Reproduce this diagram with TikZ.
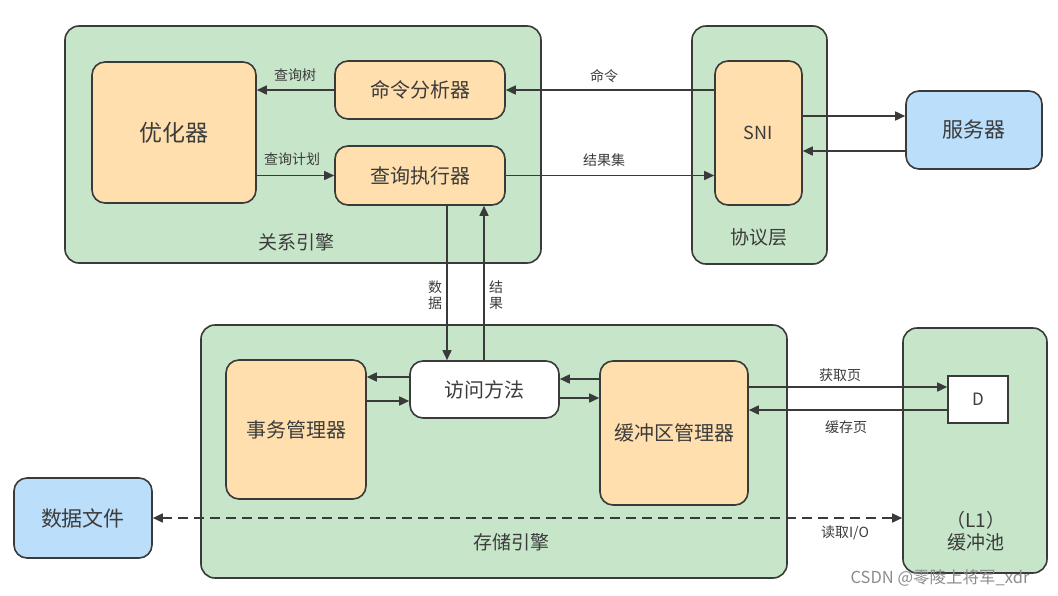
\documentclass[tikz,border=0pt]{standalone}
\usepackage{fontspec}
\setmainfont{Noto Sans CJK SC}
\usetikzlibrary{arrows.meta}
\definecolor{gfill}{HTML}{C6E5C9}
\definecolor{ofill}{HTML}{FFDFAD}
\definecolor{bfill}{HTML}{BBDEFB}
\definecolor{edge}{HTML}{3A3A3A}
\definecolor{txt}{HTML}{3C3C3C}
\tikzset{
  cont/.style={draw=edge, fill=gfill, line width=1.6pt, rounded corners=14pt, inner sep=0pt},
  obox/.style={draw=edge, fill=ofill, line width=1.6pt, rounded corners=13pt, inner sep=0pt, text=txt},
  bbox/.style={draw=edge, fill=bfill, line width=1.6pt, rounded corners=13pt, inner sep=0pt, text=txt},
  wbox/.style={draw=edge, fill=white, line width=1.6pt, rounded corners=13pt, inner sep=0pt, text=txt},
  dbox/.style={draw=edge, fill=white, line width=1.6pt, inner sep=0pt, text=txt},
  arr/.style={draw=edge, line width=1.6pt, -{Triangle[length=10pt,width=9pt]}},
  darr/.style={draw=edge, line width=1.6pt, dash pattern=on 10pt off 6pt, {Triangle[length=10pt,width=9pt]}-{Triangle[length=10pt,width=9pt]}},
  lab/.style={text=txt, font=\fontsize{14}{16}\selectfont, inner sep=0pt},
  clab/.style={text=txt, font=\fontsize{19}{22}\selectfont, inner sep=0pt},
  big/.style={font=\fontsize{20}{24}\selectfont}
}
\begin{document}
\begin{tikzpicture}[x=1pt,y=-1pt]
\useasboundingbox (0,0) rectangle (1058,595);
% containers
\node[cont, minimum width=476pt, minimum height=237pt] (rel) at (303,144.5) {};
\node[cont, minimum width=135pt, minimum height=238pt] (proto) at (759.5,145) {};
\node[cont, minimum width=586pt, minimum height=253pt] (stor) at (494,451.5) {};
\node[cont, minimum width=144pt, minimum height=245pt] (pool) at (975,450.5) {};
\node[clab] (rellab) at (296,242) {关系引擎};
\node[clab] (protolab) at (759,237) {协议层};
\node[clab] (storlab) at (511,542) {存储引擎};
\node[clab, align=center] (poollab) at (976,531) {（L1）\\缓冲池};
% inner boxes
\node[obox, minimum width=164pt, minimum height=141pt, font=\fontsize{23}{26}\selectfont] (opt) at (174,132.5) {优化器};
\node[obox, minimum width=170pt, minimum height=58pt, big] (cmd) at (420,90) {命令分析器};
\node[obox, minimum width=170pt, minimum height=59pt, big] (exec) at (420,175.5) {查询执行器};
\node[obox, minimum width=87pt, minimum height=144pt, font=\fontsize{18}{20}\selectfont] (sni) at (758.5,133) {SNI};
\node[bbox, minimum width=136pt, minimum height=78pt, font=\fontsize{21}{24}\selectfont] (server) at (974,130) {服务器};
\node[obox, minimum width=140pt, minimum height=139pt, big] (txn) at (296,429.5) {事务管理器};
\node[wbox, minimum width=149pt, minimum height=57pt, big] (access) at (484.5,389.5) {访问方法};
\node[obox, minimum width=148pt, minimum height=144pt, big] (buf) at (674,433) {缓冲区管理器};
\node[dbox, minimum width=60pt, minimum height=47pt, font=\fontsize{17}{20}\selectfont] (D) at (978,399.5) {D};
\node[bbox, minimum width=138pt, minimum height=80pt, font=\fontsize{21}{24}\selectfont] (file) at (83,518) {数据文件};
% connectors
\draw[arr] (cmd.west) -- (opt.east |- cmd.west);
\draw[arr] (opt.east |- exec.west) -- (exec.west);
\draw[arr] (sni.west |- cmd.east) -- (cmd.east);
\draw[arr] (exec.east) -- (sni.west |- exec.east);
\draw[arr] (sni.east |- 0,116) -- (server.west |- 0,116);
\draw[arr] (server.west |- 0,151) -- (sni.east |- 0,151);
\draw[arr] (exec.south -| 447,0) -- (access.north -| 447,0);
\draw[arr] (access.north -| 484,0) -- (exec.south -| 484,0);
\draw[arr] (access.west |- 0,377) -- (txn.east |- 0,377);
\draw[arr] (txn.east |- 0,401) -- (access.west |- 0,401);
\draw[arr] (buf.west |- 0,379) -- (access.east |- 0,379);
\draw[arr] (access.east |- 0,398) -- (buf.west |- 0,398);
\draw[arr] (buf.east |- 0,387) -- (D.west |- 0,387);
\draw[arr] (D.west |- 0,410) -- (buf.east |- 0,410);
\draw[darr] (file.east |- 0,518) -- (pool.west |- 0,518);
% labels
\node[lab] (l1) at (295,75) {查询树};
\node[lab] (l2) at (292,159) {查询计划};
\node[lab] (l3) at (604,76) {命令};
\node[lab] (l4) at (604,160) {结果集};
\node[lab, align=center] (l5) at (435,295) {数\\据};
\node[lab, align=center] (l6) at (496,295) {结\\果};
\node[lab] (l7) at (840,375) {获取页};
\node[lab] (l8) at (846,427) {缓存页};
\node[lab] (l9) at (845,533) {读取I/O};
\node[text=black!45, font=\fontsize{16.5}{18}\selectfont, inner sep=0pt] (wm) at (940,578) {CSDN @零陵上将军\_xdr};
\end{tikzpicture}
\end{document}
